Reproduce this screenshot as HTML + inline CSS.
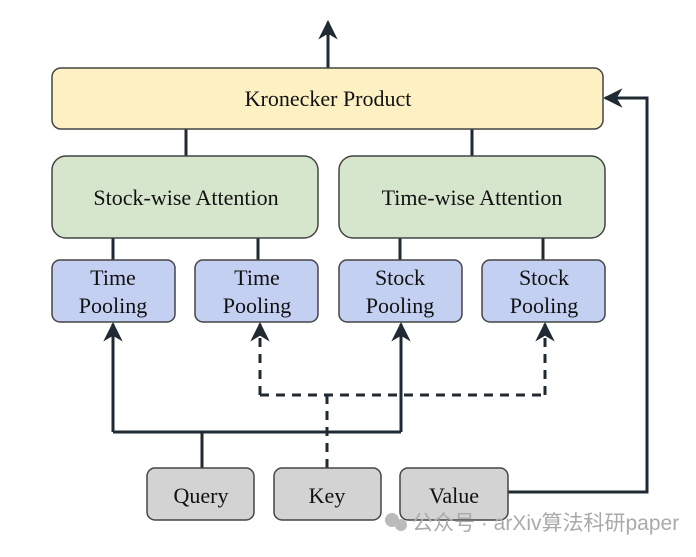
<!DOCTYPE html>
<html><head><style>
body{margin:0;background:#fff;}
svg text{font-family:"Liberation Serif",serif;fill:#111;}
</style></head><body>
<svg width="696" height="552" viewBox="0 0 696 552" xmlns="http://www.w3.org/2000/svg">
<defs>
<marker id="a" viewBox="0 0 10 10" refX="9" refY="5" markerWidth="6.5" markerHeight="6.5" orient="auto-start-reverse"><path d="M0,0 L10,5 L0,10 L3,5 z" fill="#1f2a33"/></marker>
</defs>
<g stroke="#1f2a33" stroke-width="3" fill="none">
<line x1="328" y1="68" x2="328" y2="22" marker-end="url(#a)"/>
<line x1="186" y1="129" x2="186" y2="156"/>
<line x1="472" y1="129" x2="472" y2="156"/>
<line x1="113" y1="238" x2="113" y2="260"/>
<line x1="258" y1="238" x2="258" y2="260"/>
<line x1="400" y1="238" x2="400" y2="260"/>
<line x1="543" y1="238" x2="543" y2="260"/>
<path d="M202 468 V432 M113 432 H401 M113 432 V324" marker-end="url(#a)"/>
<line x1="401" y1="432" x2="401" y2="324" marker-end="url(#a)"/>
<path d="M508 492 H647 V98 H605" marker-end="url(#a)"/>
<g stroke-dasharray="9,7">
<line x1="327" y1="468" x2="327" y2="395"/>
<line x1="260" y1="395" x2="545" y2="395"/>
<line x1="260" y1="395" x2="260" y2="324" marker-end="url(#a)"/>
<line x1="545" y1="395" x2="545" y2="324" marker-end="url(#a)"/>
</g>
</g>
<g stroke="#444" stroke-width="1.5">
<rect x="52" y="68" width="551" height="61" rx="9" fill="#fdf1c3"/>
<rect x="52" y="156" width="266" height="82" rx="14" fill="#d6e6cc"/>
<rect x="339" y="156" width="266" height="82" rx="14" fill="#d6e6cc"/>
<rect x="52" y="260" width="123" height="62" rx="8" fill="#c4d0f2"/>
<rect x="195" y="260" width="123" height="62" rx="8" fill="#c4d0f2"/>
<rect x="339" y="260" width="123" height="62" rx="8" fill="#c4d0f2"/>
<rect x="482" y="260" width="123" height="62" rx="8" fill="#c4d0f2"/>
<rect x="147" y="468" width="107" height="52" rx="8" fill="#d3d3d3"/>
<rect x="274" y="468" width="107" height="52" rx="8" fill="#d3d3d3"/>
<rect x="400" y="468" width="108" height="52" rx="8" fill="#d3d3d3"/>
</g>
<g font-size="22" text-anchor="middle">
<text x="328" y="106">Kronecker Product</text>
<text x="186" y="205">Stock-wise Attention</text>
<text x="472" y="205">Time-wise Attention</text>
<text x="113" y="285">Time</text><text x="113" y="313">Pooling</text>
<text x="257" y="285">Time</text><text x="257" y="313">Pooling</text>
<text x="400" y="285">Stock</text><text x="400" y="313">Pooling</text>
<text x="544" y="285">Stock</text><text x="544" y="313">Pooling</text>
<text x="201" y="503">Query</text>
<text x="327" y="503">Key</text>
<text x="454" y="503">Value</text>
</g>
<circle cx="392" cy="520" r="7" fill="#bbb"/><circle cx="401" cy="525" r="6" fill="#bbb"/>
<text x="412" y="530" font-size="21" style="font-family:'Liberation Sans','Noto Sans CJK SC',sans-serif;fill:#aaa">公众号 · arXiv算法科研paper</text>
</svg>
</body></html>
